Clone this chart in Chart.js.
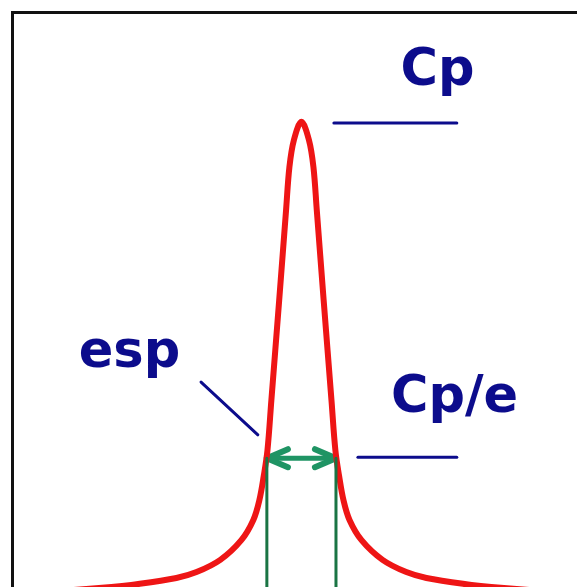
<!DOCTYPE html>
<html lang="en">
  <head>
    <meta charset="utf-8" />
    <title>Cp / esp</title>
    <style>
      body { margin: 0; background: #fff; overflow: hidden; }
      .frame {
        position: absolute;
        left: 11px;
        top: 11px;
        width: 700px;
        height: 700px;
        border: 3px solid #111;
      }
      #peak { position: absolute; left: 0; top: 0; }
    </style>
    <script src="https://cdn.jsdelivr.net/npm/chart.js@4.4.0/dist/chart.umd.min.js"></script>
  </head>
  <body>
    <div class="frame"></div>
    <canvas id="peak" width="577" height="587"></canvas>

    <script>
      // peak profile, distance from centre vs C/Cp
      const curveX = [-9.5, -6.32, -5.66, -4.16, -3.49, -2.7, -2.0, -1.6, -1.4, -1.25, -1.13, -1.0, -0.74, -0.51, -0.4, -0.25, 0,
                      0.25, 0.4, 0.51, 0.74, 1.0, 1.13, 1.25, 1.4, 1.6, 2.0, 2.7, 3.49, 4.16, 5.66, 6.32, 9.5];
      const curveY = [0.112, 0.126, 0.13, 0.143, 0.154, 0.177, 0.214, 0.252, 0.289, 0.336, 0.383, 0.477, 0.665, 0.835, 0.915, 0.966, 1.0,
                      0.966, 0.915, 0.835, 0.665, 0.477, 0.383, 0.336, 0.289, 0.252, 0.214, 0.177, 0.154, 0.143, 0.13, 0.126, 0.112];

      // width at Cp/e
      const halfWidth = 1.15;
      const levelE = 0.368;
      const bottomY = 0.1;

      // leader lines
      const cpLineX = [1.08, 5.17];
      const cpLineY = [0.998, 0.998];
      const cpeLineX = [1.88, 5.17];
      const cpeLineY = [0.37, 0.37];
      const espLineX = [-3.34, -1.45];
      const espLineY = [0.511, 0.412];

      // arrow heads: arm length in x and spread in y
      const armX = 0.7;
      const armY = 0.017;

      // labels: text, x, y (baseline-left)
      const labelText = ["Cp", "Cp/e", "esp"];
      const labelX = [3.3, 2.98, -7.41];
      const labelY = [1.07, 0.455, 0.539];

      const navy = "#0c0c8c";
      const pts = (xs, ys) => xs.map((x, i) => ({ x: x, y: ys[i] }));
      const seg = (color, width, data) => ({
        data: data,
        borderColor: color,
        borderWidth: width,
        pointRadius: 0,
        showLine: true,
        tension: 0,
        borderCapStyle: "round",
        borderJoinStyle: "round",
      });

      const labelsPlugin = {
        id: "labels",
        afterDatasetsDraw(chart) {
          const ctx = chart.ctx;
          const xs = chart.scales.x;
          const ys = chart.scales.y;
          ctx.save();
          ctx.fillStyle = navy;
          ctx.font = "bold 51px 'DejaVu Sans'";
          ctx.textBaseline = "alphabetic";
          ctx.textAlign = "left";
          labelText.forEach((t, i) => {
            ctx.fillText(t, xs.getPixelForValue(labelX[i]), ys.getPixelForValue(labelY[i]));
          });
          ctx.restore();
        },
      };

      const context = document.getElementById("peak").getContext("2d");
      new Chart(context, {
        type: "scatter",
        data: {
          datasets: [
            seg("#1a7444", 3, [{ x: -halfWidth, y: levelE }, { x: -halfWidth, y: bottomY }]),
            seg("#1a7444", 3, [{ x: halfWidth, y: levelE }, { x: halfWidth, y: bottomY }]),
            {
              data: pts(curveX, curveY),
              borderColor: "#ee1515",
              borderWidth: 6,
              pointRadius: 0,
              showLine: true,
              tension: 0.35,
            },
            seg("#1f9464", 5, [{ x: -halfWidth, y: levelE }, { x: halfWidth, y: levelE }]),
            seg("#1f9464", 6, [{ x: -halfWidth + armX, y: levelE + armY }, { x: -halfWidth, y: levelE }, { x: -halfWidth + armX, y: levelE - armY }]),
            seg("#1f9464", 6, [{ x: halfWidth - armX, y: levelE + armY }, { x: halfWidth, y: levelE }, { x: halfWidth - armX, y: levelE - armY }]),
            seg(navy, 3, pts(cpLineX, cpLineY)),
            seg(navy, 3, pts(cpeLineX, cpeLineY)),
            seg(navy, 3, pts(espLineX, espLineY)),
          ],
        },
        options: {
          responsive: false,
          animation: false,
          layout: { padding: 0 },
          plugins: { legend: { display: false }, tooltip: { enabled: false } },
          scales: {
            x: { type: "linear", min: -10.03, max: 9.17, display: false },
            y: { type: "linear", min: 0.126, max: 1.229, display: false },
          },
        },
        plugins: [labelsPlugin],
      });
    </script>
  </body>
</html>
